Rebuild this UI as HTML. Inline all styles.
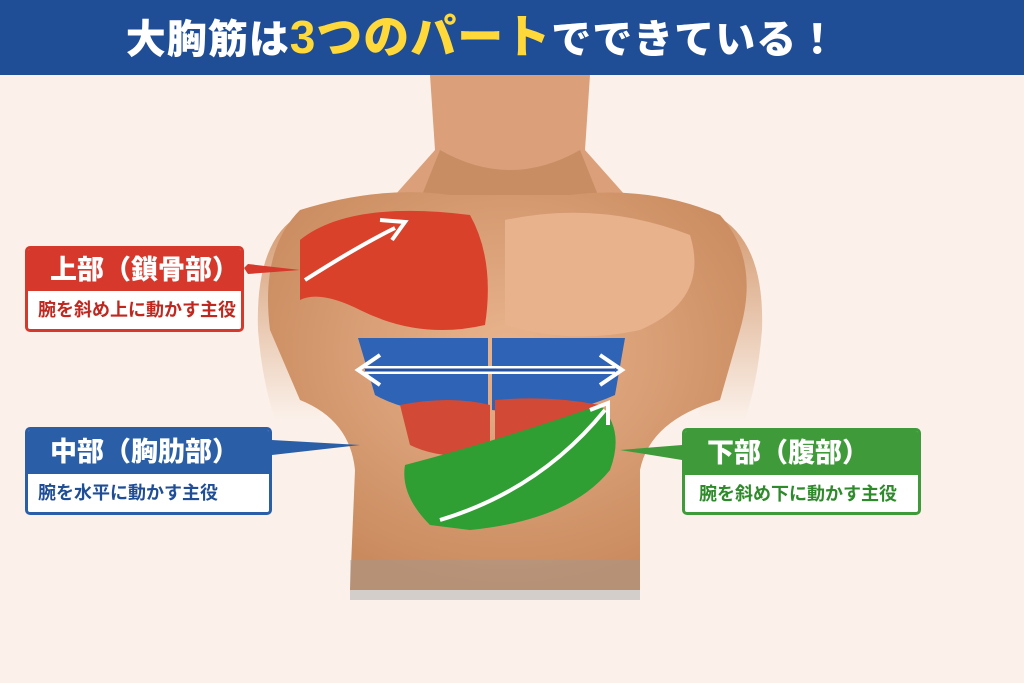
<!DOCTYPE html>
<html><head><meta charset="utf-8"><style>
body{margin:0;width:1024px;height:683px;overflow:hidden;background:#fbf1ea;font-family:"Liberation Sans","Noto Sans CJK JP",sans-serif;position:relative}
.hdr{position:absolute;left:0;top:0;width:1024px;height:75px;background:#1f4e96;color:#fff;font-weight:900;font-size:40px;text-align:center;line-height:75px;letter-spacing:1px;text-indent:-60px}
.hdr .y{color:#ffd83a;font-size:46px}
.box{position:absolute;border-radius:5px;box-sizing:border-box;border:3px solid;background:#fff;overflow:hidden}
.box .t{color:#fff;font-weight:900;font-size:27px;padding-left:22px;box-sizing:border-box}
.box .s{font-weight:700;font-size:18px;padding-left:10px}
svg{position:absolute;left:0;top:0}
</style></head><body>
<svg width="1024" height="683">
<defs>
<radialGradient id="sk" cx="50%" cy="40%" r="60%"><stop offset="0" stop-color="#e9b48e"/><stop offset="1" stop-color="#c98a5e"/></radialGradient>
<linearGradient id="arm" x1="0" y1="0" x2="0" y2="1"><stop offset="0" stop-color="#d49a70"/><stop offset="1" stop-color="#fbf1ea"/></linearGradient>
</defs>
<!-- arms -->
<path d="M300 215 Q255 240 258 330 Q262 380 275 420 L320 420 L330 260 Z" fill="url(#arm)"/>
<path d="M715 215 Q765 240 762 330 Q758 380 745 420 L700 420 L690 260 Z" fill="url(#arm)"/>
<!-- neck & head -->
<path d="M430 75 L590 75 L585 150 L625 195 L395 195 L435 150 Z" fill="#dba07a"/>
<path d="M440 150 Q510 190 580 150 L600 200 L420 200 Z" fill="#c98d64"/>
<!-- torso -->
<path d="M300 210 Q380 185 450 195 L570 195 Q650 185 720 215 Q760 260 740 330 L720 400 Q650 420 640 470 L640 590 L350 590 L355 470 Q350 420 300 400 L270 330 Q260 250 300 210 Z" fill="url(#sk)"/>
<path d="M350 560 L640 560 L640 600 L350 600 Z" fill="#9a9a9a" opacity=".4"/>
<!-- right pec (light) -->
<path d="M505 220 Q600 200 690 235 Q710 300 640 330 Q570 345 505 325 Z" fill="#e8b28c"/>
<!-- left pec red -->
<path d="M300 240 Q350 200 470 215 Q495 260 485 325 Q420 340 360 310 Q320 290 300 300 Z" fill="#d9412b"/>
<!-- middle blue -->
<path d="M358 338 L488 338 L488 410 Q420 420 375 395 Z" fill="#2e63b5"/>
<path d="M492 338 L625 338 L615 395 Q560 420 492 410 Z" fill="#2e63b5"/>
<!-- lower red -->
<path d="M400 405 Q450 395 490 405 L490 455 Q440 460 410 445 Z" fill="#d24a35"/>
<path d="M495 400 Q550 395 600 405 L580 440 Q530 450 495 445 Z" fill="#d24a35"/>
<!-- green -->
<path d="M405 465 Q500 440 600 405 Q625 430 610 470 Q570 520 470 530 L430 525 Q400 495 405 465 Z" fill="#2f9e33"/>
<!-- arrows -->
<path d="M305 280 Q360 245 395 228" stroke="#fff" stroke-width="4" fill="none"/>
<path d="M380 220 L405 222 L392 240" stroke="#fff" stroke-width="4" fill="none"/>
<path d="M365 370 L615 370" stroke="#fff" stroke-width="8"/>
<path d="M365 370 L615 370" stroke="#2452a0" stroke-width="3"/>
<path d="M380 355 L358 370 L380 385 M600 355 L622 370 L600 385" stroke="#fff" stroke-width="4" fill="none"/>
<path d="M440 520 Q540 490 605 410" stroke="#fff" stroke-width="4" fill="none"/>
<path d="M590 410 L608 403 L608 425" stroke="#fff" stroke-width="4" fill="none"/>
<!-- connectors -->
<path d="M244 268 L248 264 L300 270 L248 274 Z" fill="#d6382b"/>
<path d="M272 445 L272 440 L360 445 L272 455 Z" fill="#2a5fa8"/>
<path d="M682 445 L682 460 L620 450 Z" fill="#3f9a3a"/>
</svg>
<div class="hdr">大胸筋は<span class="y">3つのパート</span>でできている！</div>
<div class="box" style="left:25px;top:246px;width:219px;height:86px;border-color:#d6382b">
<div class="t" style="background:#d6382b;height:42px;line-height:42px">上部（鎖骨部）</div>
<div class="s" style="color:#c0281f;line-height:38px">腕を斜め上に動かす主役</div></div>
<div class="box" style="left:25px;top:427px;width:247px;height:88px;border-color:#2a5fa8">
<div class="t" style="background:#2a5fa8;height:44px;line-height:44px">中部（胸肋部）</div>
<div class="s" style="color:#1f4e96;line-height:38px">腕を水平に動かす主役</div></div>
<div class="box" style="left:682px;top:428px;width:239px;height:87px;border-color:#3f9a3a">
<div class="t" style="background:#3f9a3a;height:44px;line-height:44px">下部（腹部）</div>
<div class="s" style="color:#2e8a2a;line-height:38px;padding-left:14px">腕を斜め下に動かす主役</div></div>
</body></html>
